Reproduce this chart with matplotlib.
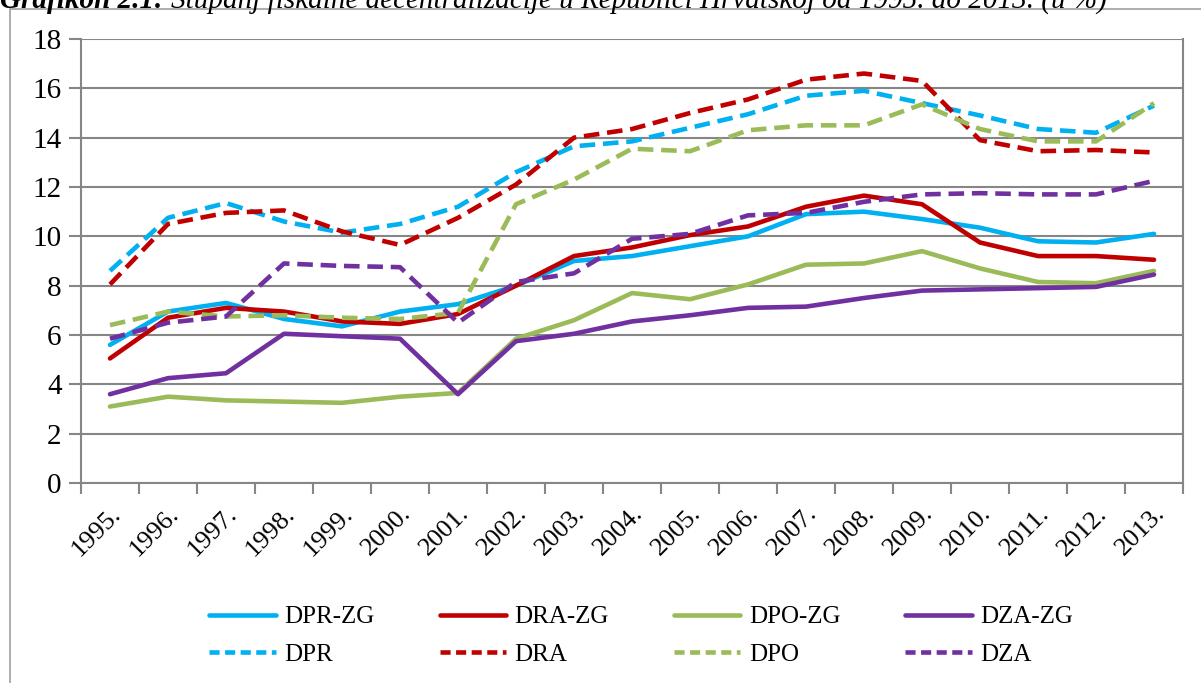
import numpy as np
import matplotlib
matplotlib.use('Agg')
from matplotlib import pyplot
from matplotlib.lines import Line2D
from matplotlib.patches import Rectangle

years = ['1995.', '1996.', '1997.', '1998.', '1999.', '2000.', '2001.', '2002.', '2003.', '2004.',
         '2005.', '2006.', '2007.', '2008.', '2009.', '2010.', '2011.', '2012.', '2013.']

dpr_zg = [5.6, 6.95, 7.3, 6.65, 6.35, 6.95, 7.25, 8.0, 9.0, 9.2,
          9.6, 10.0, 10.9, 11.0, 10.7, 10.35, 9.8, 9.75, 10.1]
dra_zg = [5.05, 6.7, 7.1, 6.95, 6.55, 6.45, 6.85, 8.0, 9.2, 9.55,
          10.05, 10.4, 11.2, 11.65, 11.3, 9.75, 9.2, 9.2, 9.05]
dpo_zg = [3.1, 3.5, 3.35, 3.3, 3.25, 3.5, 3.65, 5.85, 6.6, 7.7,
          7.45, 8.05, 8.85, 8.9, 9.4, 8.7, 8.15, 8.1, 8.6]
dza_zg = [3.6, 4.25, 4.45, 6.05, 5.95, 5.85, 3.6, 5.75, 6.05, 6.55,
          6.8, 7.1, 7.15, 7.5, 7.8, 7.85, 7.9, 7.95, 8.45]
dpr = [8.6, 10.75, 11.35, 10.6, 10.15, 10.5, 11.2, 12.6, 13.65, 13.85,
       14.4, 14.95, 15.7, 15.9, 15.4, 14.9, 14.35, 14.2, 15.3]
dra = [8.05, 10.5, 10.95, 11.05, 10.2, 9.65, 10.75, 12.1, 14.0, 14.35,
       15.0, 15.55, 16.35, 16.6, 16.3, 13.9, 13.45, 13.5, 13.4]
dpo = [6.4, 6.95, 6.75, 6.8, 6.7, 6.65, 6.9, 11.3, 12.3, 13.55,
       13.45, 14.3, 14.5, 14.5, 15.35, 14.35, 13.85, 13.85, 15.4]
dza = [5.85, 6.5, 6.75, 8.9, 8.8, 8.75, 6.5, 8.15, 8.5, 9.9,
       10.1, 10.85, 10.95, 11.4, 11.7, 11.75, 11.7, 11.7, 12.25]

solid_names = ['DPR-ZG', 'DRA-ZG', 'DPO-ZG', 'DZA-ZG']
dashed_names = ['DPR', 'DRA', 'DPO', 'DZA']
colors = ['#00B0F0', '#C00000', '#9BBB59', '#7030A0']

serif = ['Liberation Serif', 'DejaVu Serif']
grid_col = '#868686'

fig = pyplot.figure(figsize=(12.01, 6.83), dpi=100)

# outer chart frame (runs off the bottom/right of the image)
fig.patches.append(Rectangle((10 / 1201, -0.1), 1.2, 1 - 9 / 683 + 0.1,
                             transform=fig.transFigure, fill=False,
                             edgecolor='#A0A0A0', linewidth=1.2, zorder=0))

# caption, only the bottom part shows in the reference
t1 = fig.text(0.0, 1 - 1 / 683, 'Grafikon 2.1:', fontsize=21, family=serif,
              fontweight='bold', fontstyle='italic', va='center', ha='left')
renderer = fig.canvas.get_renderer()
bb = t1.get_window_extent(renderer)
fig.text((bb.x1 + 7) / 1201, 1 - 1 / 683,
         'Stupanj fiskalne decentralizacije u Republici Hrvatskoj od 1995. do 2013. (u %)',
         fontsize=21, family=serif, fontstyle='italic', va='center', ha='left')

ax = fig.add_axes([81 / 1201, 1 - 483 / 683, (1183 - 81) / 1201, (483 - 39) / 683])

ind = np.arange(len(years))
solid_series = [dpr_zg, dra_zg, dpo_zg, dza_zg]
dashed_series = [dpr, dra, dpo, dza]

for vals, c in zip(solid_series, colors):
    ax.plot(ind, vals, color=c, linewidth=3.3, solid_capstyle='round', zorder=3)
for vals, c in zip(dashed_series, colors):
    ax.plot(ind, vals, color=c, linewidth=3.3, dashes=(3.4, 1.7), zorder=3)

ax.set_xlim(-0.5, len(years) - 0.5)
ax.set_ylim(0, 18)
ax.set_yticks(np.arange(0, 19, 2))
ax.set_yticklabels([str(v) for v in range(0, 19, 2)], fontsize=21, family=serif)
ax.yaxis.grid(True, color=grid_col, linewidth=1.5)
ax.set_axisbelow(True)

ax.set_xticks(ind)
ax.set_xticklabels(years, rotation=45, ha='right', rotation_mode='anchor',
                   fontsize=19, family=serif)
ax.set_xticks(np.arange(-0.5, len(years), 1), minor=True)
ax.tick_params(axis='x', which='major', length=0, pad=14)
ax.tick_params(axis='x', which='minor', length=8, width=1.5, color=grid_col)
ax.tick_params(axis='y', length=9, width=1.5, color=grid_col, pad=5)

for s in ['left', 'bottom', 'right']:
    ax.spines[s].set_color(grid_col)
    ax.spines[s].set_linewidth(1.5)
ax.spines['top'].set_visible(False)

handles = []
labels = []
for i in range(4):
    handles.append(Line2D([], [], color=colors[i], linewidth=3.3, solid_capstyle='round'))
    labels.append(solid_names[i])
    handles.append(Line2D([], [], color=colors[i], linewidth=3.3, dashes=(2.2, 1.2)))
    labels.append(dashed_names[i])

fig.legend(handles, labels, ncol=4, loc='center', bbox_to_anchor=(0.534, 0.069),
           frameon=False, prop={'family': serif, 'size': 18},
           handlelength=2.65, handletextpad=0.35, columnspacing=2.6, labelspacing=0.6)

fig.savefig('out.png', dpi=100)
